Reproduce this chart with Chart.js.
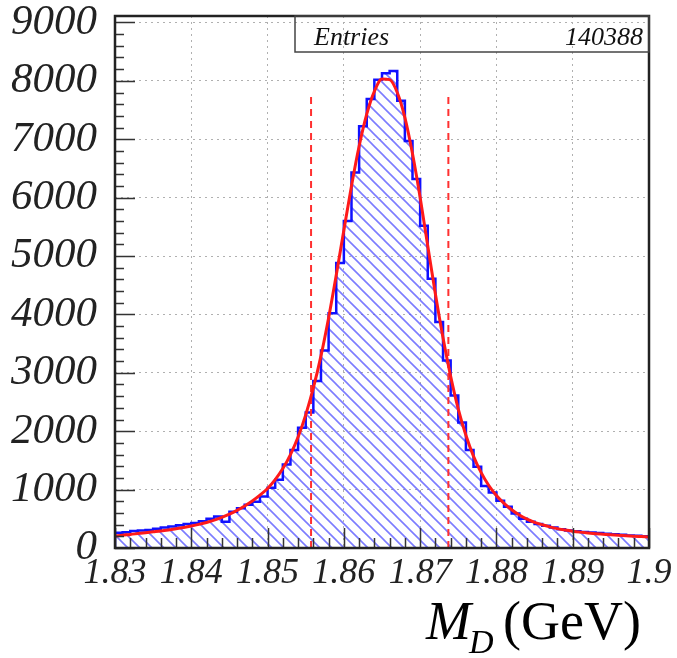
<!DOCTYPE html>
<html>
<head>
<meta charset="utf-8">
<script src="https://cdn.jsdelivr.net/npm/chart.js@4.4.1/dist/chart.umd.min.js"></script>
<style>
  body { margin: 0; background: #fff; }
  #wrap { width: 677px; height: 658px; }
</style>
</head>
<body>
<div id="wrap"><canvas id="massChart"></canvas></div>
<script>
// bin edges in GeV (1 MeV bins)
const binEdges = [
  1.830, 1.831, 1.832, 1.833, 1.834, 1.835, 1.836, 1.837, 1.838, 1.839,
  1.840, 1.841, 1.842, 1.843, 1.844, 1.845, 1.846, 1.847, 1.848, 1.849,
  1.850, 1.851, 1.852, 1.853, 1.854, 1.855, 1.856, 1.857, 1.858, 1.859,
  1.860, 1.861, 1.862, 1.863, 1.864, 1.865, 1.866, 1.867, 1.868, 1.869,
  1.870, 1.871, 1.872, 1.873, 1.874, 1.875, 1.876, 1.877, 1.878, 1.879,
  1.880, 1.881, 1.882, 1.883, 1.884, 1.885, 1.886, 1.887, 1.888, 1.889,
  1.890, 1.891, 1.892, 1.893, 1.894, 1.895, 1.896, 1.897, 1.898, 1.899,
  1.900
];

// entries per bin
const counts = [
  260, 270, 290, 300, 310, 330, 350, 370, 390, 410,
  430, 460, 500, 540, 450, 620, 680, 740, 790, 880,
  1030, 1170, 1430, 1680, 2060, 2320, 2860, 3380, 4020, 4880,
  5600, 6430, 7220, 7690, 8020, 8130, 8170, 7660, 6970, 6320,
  5520, 4610, 3870, 3210, 2610, 2150, 1680, 1390, 1060, 950,
  810, 705, 590, 500, 450, 410, 380, 350, 320, 300,
  285, 275, 265, 255, 245, 235, 225, 215, 210, 200
];

// fit function sampled at the bin edges
const fitValues = [
  205, 220, 232, 247, 262, 277, 292, 310, 330, 352,
  377, 405, 437, 477, 525, 580, 645, 720, 805, 905,
  1020, 1170, 1360, 1600, 1900, 2280, 2740, 3290, 3940, 4670,
  5440, 6200, 6880, 7430, 7820, 8030, 8020, 7800, 7370, 6750,
  6000, 5170, 4350, 3600, 2940, 2380, 1930, 1570, 1290, 1070,
  900, 765, 655, 565, 495, 440, 398, 362, 332, 308,
  288, 272, 258, 246, 236, 226, 217, 209, 202, 196,
  190
];

// signal window cuts
const cutPositions = [1.8557, 1.8737];
const cutTop = 7750;

const xTicks = [1.83, 1.84, 1.85, 1.86, 1.87, 1.88, 1.89, 1.90];
const xTickLabels = ["1.83", "1.84", "1.85", "1.86", "1.87", "1.88", "1.89", "1.9"];
const yTicks = [0, 1000, 2000, 3000, 4000, 5000, 6000, 7000, 8000, 9000];

const entriesLabel = "Entries";
const entriesValue = "140388";

// histogram outline points (step)
const histPoints = [{ x: binEdges[0], y: 0 }];
for (let i = 0; i < counts.length; i++) {
  histPoints.push({ x: binEdges[i], y: counts[i] });
}
histPoints.push({ x: binEdges[binEdges.length - 1], y: counts[counts.length - 1] });

const fitPoints = binEdges.map((x, i) => ({ x: x, y: fitValues[i] }));

// hatch fill
function makeHatch() {
  const s = 12;
  const c = document.createElement("canvas");
  c.width = s;
  c.height = s;
  const g = c.getContext("2d");
  g.strokeStyle = "rgba(80,80,255,0.75)";
  g.lineWidth = 1.6;
  g.beginPath();
  g.moveTo(-2, -2); g.lineTo(s + 2, s + 2);
  g.moveTo(-2, s - 2); g.lineTo(2, s + 2);
  g.moveTo(s - 2, -2); g.lineTo(s + 2, 2);
  g.stroke();
  return g.createPattern(c, "repeat");
}

const serif = "'Liberation Serif', 'Times New Roman', serif";

const framePlugin = {
  id: "frame",
  afterDatasetsDraw(chart) {
    const ctx = chart.ctx;
    const a = chart.chartArea;
    const xs = chart.scales.x;
    const ys = chart.scales.y;
    ctx.save();
    ctx.strokeStyle = "#333";
    ctx.lineWidth = 1.5;
    ctx.beginPath();
    // y ticks, inside the frame
    for (let v = 0; v <= 9000; v += 200) {
      const py = Math.round(ys.getPixelForValue(v)) + 0.5;
      const len = v % 1000 === 0 ? 20 : 9;
      ctx.moveTo(a.left, py);
      ctx.lineTo(a.left + len, py);
    }
    // x ticks, inside the frame
    for (let k = 0; k <= 35; k++) {
      const v = 1.83 + k * 0.002;
      const px = Math.round(xs.getPixelForValue(v)) + 0.5;
      const len = k % 5 === 0 ? 20 : 10;
      ctx.moveTo(px, a.bottom);
      ctx.lineTo(px, a.bottom - len);
    }
    ctx.stroke();

    ctx.strokeStyle = "#222";
    ctx.lineWidth = 2.5;
    ctx.strokeRect(a.left, a.top, a.right - a.left, a.bottom - a.top);

    // stats box
    ctx.lineWidth = 1.5;
    ctx.strokeStyle = "#444";
    ctx.strokeRect(295, a.top, a.right - 295, 36);
    ctx.fillStyle = "#111";
    ctx.font = "italic 26px " + serif;
    ctx.textBaseline = "alphabetic";
    ctx.textAlign = "left";
    ctx.fillText(entriesLabel, 314, 45);
    ctx.textAlign = "right";
    ctx.fillText(entriesValue, a.right - 6, 45);

    // axis title M_D (GeV)
    ctx.fillStyle = "#000";
    ctx.textAlign = "left";
    ctx.font = "italic 54px " + serif;
    ctx.fillText("M", 426, 639);
    ctx.font = "italic 34px " + serif;
    ctx.fillText("D", 469, 653);
    ctx.font = "54px " + serif;
    ctx.fillText("(GeV)", 503, 639);
    ctx.restore();
  }
};

new Chart(document.getElementById("massChart"), {
  type: "line",
  data: {
    datasets: [
      {
        label: "M_D",
        data: histPoints,
        stepped: true,
        borderColor: "#1010ff",
        borderWidth: 2.5,
        backgroundColor: makeHatch(),
        fill: "origin",
        pointRadius: 0,
        order: 3,
      },
      {
        label: "fit",
        data: fitPoints,
        borderColor: "#ff1a1a",
        borderWidth: 3,
        tension: 0.4,
        cubicInterpolationMode: "monotone",
        pointRadius: 0,
        fill: false,
        order: 1,
      },
      {
        label: "cut low",
        data: [{ x: cutPositions[0], y: 0 }, { x: cutPositions[0], y: cutTop }],
        borderColor: "#ff3030",
        borderWidth: 2,
        borderDash: [7, 5],
        pointRadius: 0,
        fill: false,
        order: 2,
      },
      {
        label: "cut high",
        data: [{ x: cutPositions[1], y: 0 }, { x: cutPositions[1], y: cutTop }],
        borderColor: "#ff3030",
        borderWidth: 2,
        borderDash: [7, 5],
        pointRadius: 0,
        fill: false,
        order: 2,
      },
    ],
  },
  options: {
    responsive: true,
    maintainAspectRatio: false,
    animation: false,
    layout: { padding: { top: 16, right: 28, left: 0, bottom: 0 } },
    plugins: { legend: { display: false }, tooltip: { enabled: false } },
    scales: {
      x: {
        type: "linear",
        min: 1.83,
        max: 1.9,
        afterBuildTicks: (scale) => {
          scale.ticks = xTicks.map((v) => ({ value: v }));
        },
        afterFit: (scale) => {
          scale.height = 110;
          scale.paddingLeft = 0;
          scale.paddingRight = 0;
        },
        ticks: {
          callback: (v, i) => xTickLabels[i],
          font: { family: serif, style: "italic", size: 36 },
          color: "#222",
          padding: 4,
          maxRotation: 0,
          autoSkip: false,
        },
        grid: { color: "#b0b0b0", lineWidth: 1, drawTicks: false },
        border: { display: false, dash: [2, 4] },
      },
      y: {
        min: 0,
        max: 9110,
        afterBuildTicks: (scale) => {
          scale.ticks = yTicks.map((v) => ({ value: v }));
        },
        afterFit: (scale) => {
          scale.width = 115;
          scale.paddingTop = 0;
          scale.paddingBottom = 0;
        },
        ticks: {
          callback: (v) => String(v),
          font: { family: serif, style: "italic", size: 43 },
          color: "#222",
          padding: 18,
        },
        grid: { color: "#b0b0b0", lineWidth: 1, drawTicks: false },
        border: { display: false, dash: [2, 4] },
      },
    },
  },
  plugins: [framePlugin],
});
</script>
</body>
</html>
